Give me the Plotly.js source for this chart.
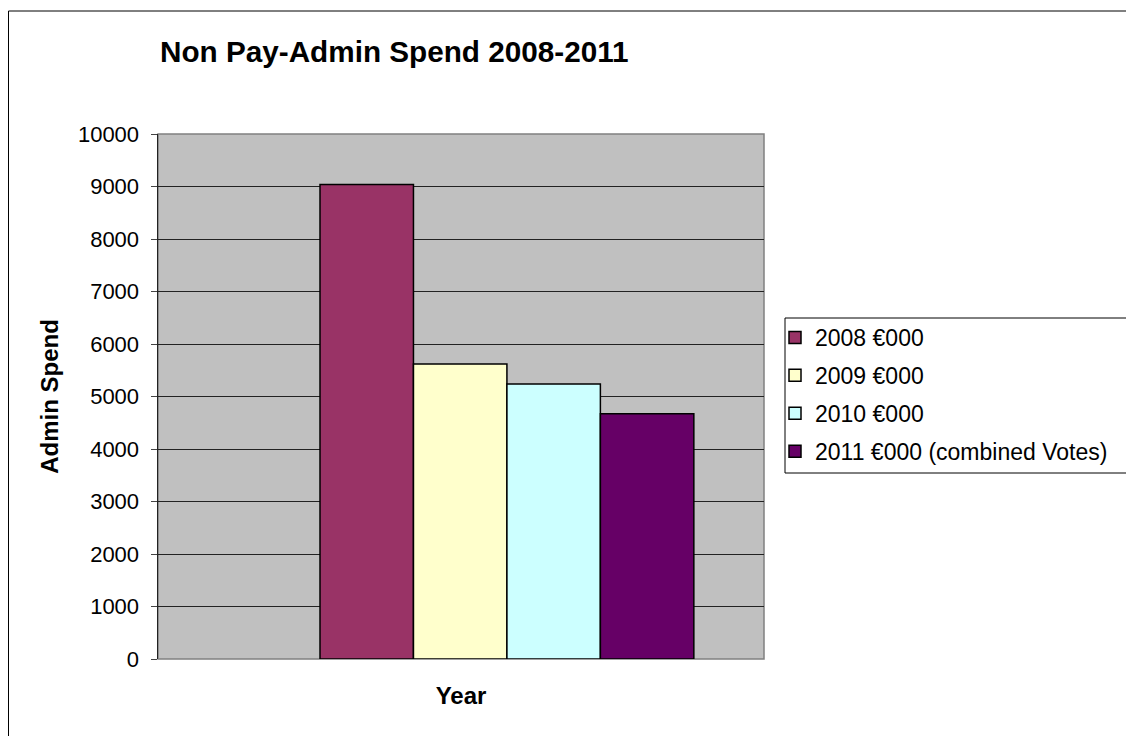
<!DOCTYPE html>
<html>
<head>
<meta charset="utf-8">
<script src="https://cdn.plot.ly/plotly-3.0.1.min.js"></script>
<style>html,body{margin:0;padding:0;background:#fff;}#chart{width:1126px;height:736px;}</style>
</head>
<body>
<div id="chart"></div>
<script>
var categories = ["Year"];
var seriesNames = ["2008 €000", "2009 €000", "2010 €000", "2011 €000 (combined Votes)"];
var seriesValues = [[9040], [5620], [5240], [4670]];
var seriesColors = ["#993366", "#FFFFCC", "#CCFFFF", "#660066"];
var yTickValues = [0, 1000, 2000, 3000, 4000, 5000, 6000, 7000, 8000, 9000, 10000];

var traces = seriesNames.map(function (name, i) {
  return {
    type: "bar",
    name: name,
    x: categories,
    y: seriesValues[i],
    legendgroup: "g" + i,
    marker: { color: seriesColors[i], line: { color: "#000000", width: 1.5 } },
    hoverinfo: "skip"
  };
});

var L = 158, R = 764, T = 134, B = 659;
var W = R - L, H = B - T;
function px(x) { return (x - L) / W; }
function py(y) { return (B - y) / H; }

var layout = {
  width: 1126, height: 736,
  margin: { l: L, r: 1126 - R, t: T, b: 736 - B, pad: 0 },
  paper_bgcolor: "#ffffff",
  plot_bgcolor: "#C0C0C0",
  font: { family: "Liberation Sans, Arial, sans-serif", size: 22, color: "#000" },
  barmode: "group",
  bargap: 0.4,
  bargroupgap: 0,
  title: {
    text: "<b>Non Pay-Admin Spend 2008-2011</b>",
    font: { size: 29.7, family: "Liberation Sans, Arial, sans-serif", color: "#000" },
    x: 160 / 1126, xanchor: "left", xref: "container",
    y: 1 - 52 / 736, yanchor: "middle", yref: "container"
  },
  xaxis: {
    type: "category",
    range: [-0.56, 0.4126],
    showticklabels: false,
    ticks: "",
    showgrid: false,
    zeroline: false,
    showline: false,
    title: { text: "<b>Year</b>", font: { size: 24 }, standoff: 28 }
  },
  yaxis: {
    range: [0, 10000],
    tickvals: yTickValues,
    ticktext: yTickValues.map(String),
    ticks: "outside",
    ticklen: 6,
    tickwidth: 1,
    tickcolor: "#444",
    ticklabelstandoff: 7,
    tickfont: { size: 22 },
    showgrid: true,
    gridcolor: "#222",
    gridwidth: 1,
    zeroline: false,
    showline: true,
    linecolor: "#222",
    linewidth: 1.5,
    title: { text: "<b>Admin Spend</b>", font: { size: 24 }, standoff: 12 }
  },
  legend: {
    x: px(775), xanchor: "left",
    y: py(316), yanchor: "top",
    bgcolor: "rgba(0,0,0,0)",
    borderwidth: 0,
    font: { size: 23 },
    tracegroupgap: 5,
    itemclick: false
  },
  showlegend: true,
  shapes: [
    { type: "rect", xref: "paper", yref: "paper", x0: 0, x1: 1, y0: 0, y1: 1,
      line: { color: "#808080", width: 1.5 }, fillcolor: "rgba(0,0,0,0)", layer: "below" },
    { type: "rect", xref: "paper", yref: "paper", x0: px(785), x1: px(1140), y0: py(473), y1: py(318),
      line: { color: "#000", width: 1 }, fillcolor: "#ffffff", layer: "below" },
    { type: "rect", xref: "paper", yref: "paper", x0: px(8.5), x1: px(1140), y0: py(11), y1: py(760),
      line: { color: "#000", width: 1 }, fillcolor: "rgba(0,0,0,0)", layer: "above" }
  ]
};

Plotly.newPlot("chart", traces, layout, { displayModeBar: false, staticPlot: true });
</script>
</body>
</html>
